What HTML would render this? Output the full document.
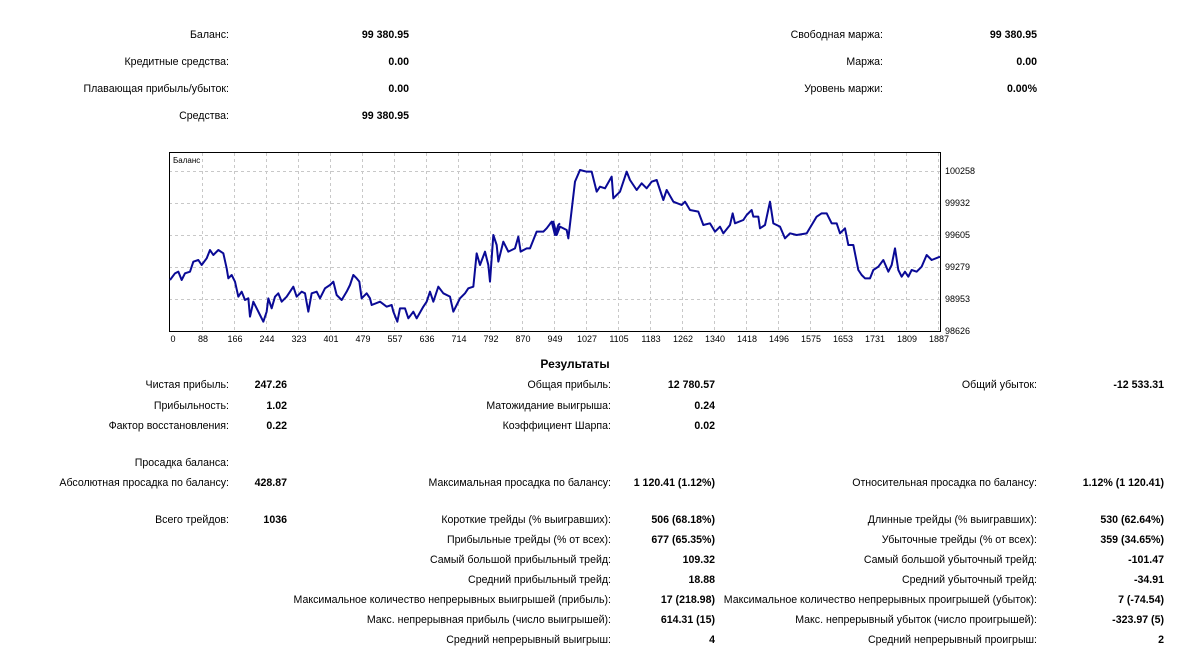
<!DOCTYPE html>
<html><head><meta charset="utf-8"><style>
body{margin:0;width:1196px;height:659px;background:#fff;position:relative;overflow:hidden;font-family:"Liberation Sans",sans-serif;font-size:10.6px;color:#000}
.t{position:absolute;white-space:nowrap;line-height:13px}
.b{font-weight:bold}
</style></head><body>
<div id="c"></div>
<svg width="1196" height="659" style="position:absolute;left:0;top:0" font-family="Liberation Sans, sans-serif" font-size="9">
<g stroke="#c8c8c8" stroke-dasharray="3,3" stroke-width="1">
<line x1="169" x2="940" y1="171.5" y2="171.5"/><line x1="169" x2="940" y1="203.5" y2="203.5"/><line x1="169" x2="940" y1="235.5" y2="235.5"/><line x1="169" x2="940" y1="267.5" y2="267.5"/><line x1="169" x2="940" y1="299.5" y2="299.5"/>
<g id="vg"></g>
</g>
<rect x="169.5" y="152.5" width="771" height="179" fill="none" stroke="#000"/>
<text x="173" y="163" font-size="8">Баланс</text>
<g transform="translate(160,145) scale(0.33333)" fill="none" stroke="#0a0a96" stroke-width="6" stroke-linejoin="round">
<polyline points="30,405 45,385 55,380 65,405 75,385 90,380 100,350 115,345 125,360 140,340 150,315 160,330 175,315 190,325 200,370 205,400 215,390 225,410 235,455 245,440 255,465 265,460 270,515 280,470 290,490 300,510 310,530 320,500 325,460 335,490 345,455 355,445 365,470 380,455 400,425 410,455 425,440 435,445 445,500 455,445 470,440 480,460 495,430 510,420 520,410 530,450 545,465 560,440 570,420 580,390 590,400 598,410 605,460 620,445 630,460 635,480 660,470 680,485 695,480 700,500 712,530 720,490 735,490 745,520 760,500 770,520 790,485 800,470 810,440 820,470 835,425 850,445 870,455 880,500 890,480 900,460 915,445 925,430 940,425 950,325 960,360 975,320 985,360 990,410 1000,270 1010,300 1015,350 1030,290 1045,320 1065,310 1075,275 1082,320 1100,310 1110,310 1130,260 1150,260 1160,250 1175,230 1185,270 1195,240 1200,235"/>
</g>
<g transform="translate(550,145) scale(0.33333)" fill="none" stroke="#0a0a96" stroke-width="6" stroke-linejoin="round">
<polyline points="0,235 10,230 20,270 30,245 50,255 55,280 65,195 75,110 90,75 110,80 125,80 140,140 150,125 165,130 185,95 190,160 210,140 230,80 240,105 260,135 275,115 290,130 305,110 320,105 340,165 350,135 370,170 395,180 405,170 420,195 445,200 460,240 480,235 495,260 510,245 520,265 540,240 548,205 555,235 580,225 590,210 605,195 610,215 625,215 630,250 645,240 660,170 670,235 690,245 705,280 720,265 740,270 770,265 800,215 815,205 830,205 845,235 860,235 870,265 885,250 895,300 910,300 925,375 935,390 945,400 960,400 970,375 985,365 1000,345 1015,380 1025,360 1035,310 1045,375 1055,395 1065,380 1075,395 1085,375 1100,380 1115,365 1130,330 1145,345 1170,335"/>
</g>
<g id="xl" text-anchor="middle"></g>
<g>
<text x="945" y="174">100258</text><text x="945" y="206">99932</text><text x="945" y="238">99605</text><text x="945" y="270">99279</text><text x="945" y="302">98953</text><text x="945" y="334">98626</text>
</g>
</svg>
<script>
var ns="http://www.w3.org/2000/svg",L=[0,88,166,244,323,401,479,557,636,714,792,870,949,1027,1105,1183,1262,1340,1418,1496,1575,1653,1731,1809,1887];
var vg=document.getElementById('vg'),xl=document.getElementById('xl');
L.forEach(function(v,i){var x=169.5+32*i+ (i?0.5:0);
if(i>0){var l=document.createElementNS(ns,'line');l.setAttribute('x1',x+0.5);l.setAttribute('x2',x+0.5);l.setAttribute('y1',153);l.setAttribute('y2',331);vg.appendChild(l);}
var t=document.createElementNS(ns,'text');t.setAttribute('x',i?x+1:173);t.setAttribute('y',342);t.textContent=v;xl.appendChild(t);});
var D=[
[229,34,"Баланс:",0],[409,34,"99 380.95",1],[229,61,"Кредитные средства:",0],[409,61,"0.00",1],[229,88,"Плавающая прибыль/убыток:",0],[409,88,"0.00",1],[229,115,"Средства:",0],[409,115,"99 380.95",1],
[883,34,"Свободная маржа:",0],[1037,34,"99 380.95",1],[883,61,"Маржа:",0],[1037,61,"0.00",1],[883,88,"Уровень маржи:",0],[1037,88,"0.00%",1],
[229,384,"Чистая прибыль:",0],[287,384,"247.26",1],[229,405,"Прибыльность:",0],[287,405,"1.02",1],[229,425,"Фактор восстановления:",0],[287,425,"0.22",1],
[611,384,"Общая прибыль:",0],[715,384,"12 780.57",1],[611,405,"Матожидание выигрыша:",0],[715,405,"0.24",1],[611,425,"Коэффициент Шарпа:",0],[715,425,"0.02",1],
[1037,384,"Общий убыток:",0],[1164,384,"-12 533.31",1],
[229,462,"Просадка баланса:",0],[229,482,"Абсолютная просадка по балансу:",0],[287,482,"428.87",1],
[611,482,"Максимальная просадка по балансу:",0],[715,482,"1 120.41 (1.12%)",1],[1037,482,"Относительная просадка по балансу:",0],[1164,482,"1.12% (1 120.41)",1],
[229,519,"Всего трейдов:",0],[287,519,"1036",1],
[611,519,"Короткие трейды (% выигравших):",0],[715,519,"506 (68.18%)",1],[1037,519,"Длинные трейды (% выигравших):",0],[1164,519,"530 (62.64%)",1],
[611,539,"Прибыльные трейды (% от всех):",0],[715,539,"677 (65.35%)",1],[1037,539,"Убыточные трейды (% от всех):",0],[1164,539,"359 (34.65%)",1],
[611,559,"Самый большой прибыльный трейд:",0],[715,559,"109.32",1],[1037,559,"Самый большой убыточный трейд:",0],[1164,559,"-101.47",1],
[611,579,"Средний прибыльный трейд:",0],[715,579,"18.88",1],[1037,579,"Средний убыточный трейд:",0],[1164,579,"-34.91",1],
[611,599,"Максимальное количество непрерывных выигрышей (прибыль):",0],[715,599,"17 (218.98)",1],[1037,599,"Максимальное количество непрерывных проигрышей (убыток):",0],[1164,599,"7 (-74.54)",1],
[611,619,"Макс. непрерывная прибыль (число выигрышей):",0],[715,619,"614.31 (15)",1],[1037,619,"Макс. непрерывный убыток (число проигрышей):",0],[1164,619,"-323.97 (5)",1],
[611,639,"Средний непрерывный выигрыш:",0],[715,639,"4",1],[1037,639,"Средний непрерывный проигрыш:",0],[1164,639,"2",1]];
var c=document.getElementById('c'),h='';
D.forEach(function(d){h+='<div class="t'+(d[3]?' b':'')+'" style="right:'+(1196-d[0])+'px;top:'+(d[1]-5)+'px">'+d[2]+'</div>';});
h+='<div class="t b" style="left:0;width:1150px;text-align:center;top:358px;font-size:12px">Результаты</div>';
c.innerHTML=h;
</script>
</body></html>
